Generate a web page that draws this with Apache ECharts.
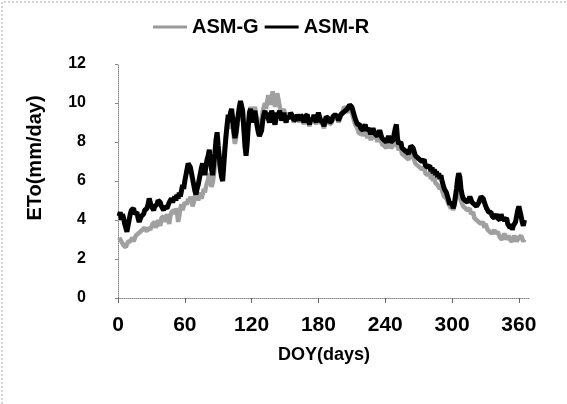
<!DOCTYPE html>
<html>
<head>
<meta charset="utf-8">
<script src="https://cdn.jsdelivr.net/npm/echarts@6/dist/echarts.min.js"></script>
<style>
  html, body { margin: 0; padding: 0; background: #fff; }
  #chart { width: 567px; height: 404px; }
</style>
</head>
<body>
<div id="chart"></div>
<script>
'use strict'

// daily reference ET (mm/day), DOY 1..365
const asmG = [
  3.1, 3.0, 2.9, 2.8, 2.7, 2.8, 2.6, 2.7, 2.9, 2.8,
  2.9, 3.0, 3.1, 2.9, 3.0, 3.2, 3.1, 3.3, 3.2, 3.4,
  3.3, 3.5, 3.4, 3.6, 3.5, 3.4, 3.6, 3.7, 3.5, 3.6,
  3.8, 3.7, 3.9, 3.6, 3.8, 4.0, 3.9, 3.7, 4.1, 4.0,
  4.2, 3.9, 4.1, 4.3, 4.0, 3.8, 4.2, 4.4, 4.3, 4.5,
  4.3, 4.6, 4.4, 3.9, 4.2, 4.6, 4.8, 4.5, 4.7, 4.9,
  5.0, 4.8, 5.1, 4.9, 5.2, 5.0, 4.7, 4.9, 5.2, 5.1,
  5.3, 5.0, 5.2, 5.4, 5.1, 5.3, 5.6, 5.4, 5.7, 5.9,
  6.1, 6.4, 6.0, 5.7, 5.9, 6.3, 6.8, 7.4, 7.8, 7.2,
  6.9, 6.5, 6.3, 6.6, 7.2, 7.8, 8.4, 8.8, 9.1, 8.7,
  8.9, 9.2, 8.8, 8.3, 7.9, 8.2, 8.7, 9.1, 9.4, 9.7,
  9.8, 9.3, 8.6, 8.1, 7.8, 8.3, 8.9, 9.4, 9.8, 9.5,
  9.3, 9.6, 9.8, 9.4, 9.1, 8.9, 8.7, 8.8, 9.2, 9.6,
  9.8, 10.0, 9.7, 10.1, 10.4, 10.2, 9.9, 10.3, 10.6, 10.2,
  9.8, 10.1, 10.5, 10.2, 9.9, 9.6, 9.4, 9.5, 9.7, 9.3,
  9.1, 9.3, 9.5, 9.2, 9.4, 9.5, 9.2, 9.0, 9.1, 9.3,
  9.3, 9.2, 9.0, 9.3, 9.4, 9.1, 8.9, 9.2, 9.1, 9.3,
  9.0, 8.8, 9.1, 9.2, 9.0, 9.3, 9.1, 8.9, 9.2, 9.4,
  9.2, 9.0, 9.1, 8.9, 8.7, 9.0, 9.2, 9.3, 9.1, 8.9,
  8.8, 9.0, 9.2, 9.1, 9.3, 9.4, 9.2, 9.0, 9.1, 9.3,
  9.4, 9.6, 9.8, 9.9, 9.7, 9.6, 9.5, 9.7, 9.8, 9.5,
  9.3, 9.1, 8.9, 8.8, 8.7, 8.5, 8.6, 8.4, 8.6, 8.3,
  8.5, 8.7, 8.4, 8.2, 8.5, 8.3, 8.1, 8.3, 8.5, 8.2,
  8.1, 8.3, 8.0, 8.2, 8.3, 8.1, 7.9, 8.0, 7.8, 7.9,
  7.7, 7.8, 8.0, 7.9, 7.7, 7.6, 7.8, 8.0, 8.2, 8.1,
  7.8, 7.6, 7.5, 7.7, 7.4, 7.5, 7.3, 7.4, 7.2, 7.3,
  7.1, 7.3, 7.4, 7.5, 7.3, 7.1, 6.9, 7.0, 6.8, 6.9,
  6.7, 6.8, 6.6, 6.5, 6.7, 6.4, 6.5, 6.3, 6.2, 6.4,
  6.1, 6.3, 6.0, 6.2, 5.9, 6.0, 5.8, 5.9, 5.6, 5.8,
  5.5, 5.4, 5.2, 5.3, 5.1, 5.0, 4.8, 4.7, 4.6, 4.8,
  4.5, 4.7, 5.0, 5.3, 5.6, 5.5, 5.2, 5.0, 4.9, 4.7,
  4.8, 4.6, 4.7, 4.5, 4.4, 4.6, 4.3, 4.2, 4.4, 4.1,
  4.2, 4.0, 4.1, 3.9, 4.0, 3.8, 3.7, 3.9, 3.6, 3.8,
  3.7, 3.5, 3.6, 3.4, 3.5, 3.3, 3.4, 3.5, 3.3, 3.2,
  3.4, 3.3, 3.1, 3.2, 3.0, 3.1, 3.3, 3.2, 3.0, 3.1,
  3.2, 3.0, 3.1, 2.9, 3.0, 3.2, 3.1, 2.9, 3.0, 3.1,
  3.0, 3.2, 3.1, 2.9, 3.0
];

const asmR = [
  4.2, 4.4, 4.0, 4.3, 4.1, 3.8, 3.6, 3.4, 3.7, 4.0,
  4.3, 4.5, 4.4, 4.6, 4.3, 4.2, 4.4, 4.1, 3.9, 4.0,
  4.2, 4.1, 4.3, 4.5, 4.4, 4.6, 4.8, 5.1, 5.0, 4.7,
  4.6, 4.5, 4.7, 4.6, 4.8, 5.0, 5.1, 4.9, 4.7, 4.6,
  4.5, 4.7, 4.8, 4.6, 4.7, 4.9, 5.0, 5.1, 4.9, 5.0,
  5.2, 5.0, 5.3, 5.1, 5.4, 5.2, 5.5, 5.8, 5.6, 6.0,
  6.3, 6.6, 6.9, 7.0, 6.7, 6.4, 6.1, 5.8, 5.5, 5.3,
  5.6, 5.8, 6.1, 6.4, 6.7, 6.9, 6.6, 6.3, 6.8, 7.1,
  7.3, 7.6, 7.0, 6.6, 6.3, 6.9, 7.4, 8.1, 8.5, 7.8,
  7.2, 6.6, 6.2, 6.0, 6.8, 7.6, 8.3, 8.9, 9.4, 9.0,
  9.5, 9.7, 9.2, 8.6, 8.2, 8.5, 9.0, 9.4, 9.8, 10.1,
  10.2, 9.6, 8.7, 7.8, 7.3, 7.9, 8.8, 9.5, 9.7, 9.3,
  9.0, 9.4, 9.6, 9.2, 8.8, 8.5, 8.3, 8.2, 8.6, 9.1,
  9.4, 9.6, 9.3, 9.5, 9.2, 9.0, 9.3, 9.6, 9.4, 9.1,
  8.9, 9.2, 9.5, 9.3, 9.6, 9.4, 9.1, 9.3, 9.5, 9.2,
  9.0, 9.3, 9.4, 9.2, 9.5, 9.6, 9.3, 9.1, 9.0, 9.2,
  9.4, 9.3, 9.1, 9.4, 9.5, 9.2, 9.0, 9.3, 9.2, 9.4,
  9.1, 8.9, 9.2, 9.3, 9.1, 9.4, 9.2, 9.0, 9.3, 9.5,
  9.3, 9.1, 9.2, 9.0, 8.8, 9.1, 9.3, 9.4, 9.2, 9.0,
  8.9, 9.1, 9.3, 9.2, 9.4, 9.5, 9.3, 9.1, 9.2, 9.4,
  9.3, 9.5, 9.4, 9.6, 9.5, 9.7, 9.8, 9.9, 10.0, 9.8,
  9.6, 9.4, 9.2, 9.1, 8.9, 8.8, 8.9, 8.7, 8.8, 8.6,
  8.7, 8.9, 8.6, 8.5, 8.7, 8.6, 8.4, 8.5, 8.7, 8.6,
  8.4, 8.5, 8.3, 8.4, 8.6, 8.4, 8.2, 8.3, 8.1, 8.2,
  8.0, 8.1, 8.3, 8.2, 8.0, 7.9, 8.1, 8.4, 8.7, 8.9,
  8.2, 7.9, 7.8, 8.0, 7.7, 7.8, 7.6, 7.7, 7.5, 7.6,
  7.4, 7.6, 7.8, 7.9, 7.7, 7.5, 7.3, 7.4, 7.2, 7.3,
  7.1, 7.2, 7.0, 6.9, 7.1, 6.8, 6.9, 6.7, 6.6, 6.8,
  6.5, 6.7, 6.4, 6.6, 6.3, 6.5, 6.2, 6.4, 6.1, 6.3,
  6.0, 5.8, 5.6, 5.7, 5.4, 5.2, 5.0, 4.8, 4.7, 4.9,
  4.6, 4.8, 5.2, 5.6, 6.1, 6.4, 6.2, 5.6, 5.3, 5.1,
  5.2, 5.0, 5.1, 4.9, 5.0, 5.2, 5.1, 4.9, 5.0, 4.8,
  4.9, 4.7, 4.8, 4.9, 5.0, 5.2, 5.3, 5.1, 4.9, 4.8,
  4.6, 4.5, 4.4, 4.3, 4.4, 4.2, 4.3, 4.1, 4.2, 4.3,
  4.1, 4.2, 4.0, 4.3, 4.1, 4.2, 4.0, 3.9, 4.1, 3.8,
  3.7, 3.6, 3.8, 3.5, 3.7, 3.6, 3.9, 4.2, 4.5, 4.7,
  4.6, 4.2, 3.9, 3.7, 4.0
];

const xTicks = [0, 60, 120, 180, 240, 300, 360];

const font = "'Liberation Sans', Arial, sans-serif";

function toPairs(values) {
    return values.map((v, i) => [i + 1, v]);
}

const chart = echarts.init(document.getElementById('chart'));

const option = {
    animation: false,
    backgroundColor: '#fff',
    grid: { left: 118, right: 37, top: 64, bottom: 106 },
    legend: {
        left: 148,
        top: 12,
        itemWidth: 34,
        itemHeight: 3,
        itemGap: 6,
        textStyle: { fontFamily: font, fontWeight: 'bold', fontSize: 20, color: '#000' },
        data: [
            { name: 'ASM-G', icon: 'rect', itemStyle: { color: '#9a9a9a' } },
            { name: 'ASM-R', icon: 'rect', itemStyle: { color: '#000' } }
        ]
    },
    xAxis: {
        type: 'value',
        min: 0,
        max: 370,
        name: 'DOY(days)',
        nameLocation: 'middle',
        nameGap: 48,
        nameTextStyle: { fontFamily: font, fontWeight: 'bold', fontSize: 18, color: '#000' },
        axisLine: { lineStyle: { color: '#888', type: 'dotted', width: 1 } },
        axisTick: { customValues: xTicks, length: 5, lineStyle: { color: '#666' } },
        axisLabel: {
            customValues: xTicks,
            margin: 17,
            fontFamily: font, fontWeight: 'bold', fontSize: 21, color: '#000'
        },
        splitLine: { show: false }
    },
    yAxis: {
        type: 'value',
        min: 0,
        max: 12,
        interval: 2,
        axisLine: { show: true, lineStyle: { color: '#888', type: 'dotted', width: 1 } },
        axisTick: { show: true, length: 3, lineStyle: { color: '#888' } },
        axisLabel: {
            margin: 32,
            fontFamily: font, fontWeight: 'bold', fontSize: 16, color: '#000'
        },
        splitLine: { show: false }
    },
    graphic: [
        {
            type: 'text',
            x: 35,
            y: 158,
            rotation: Math.PI / 2,
            style: {
                text: 'ETo(mm/day)',
                fontFamily: font, fontWeight: 'bold', fontSize: 20, fill: '#000',
                align: 'center', verticalAlign: 'middle'
            }
        },
        {
            type: 'polyline',
            shape: { points: [[2, 404], [2, 2], [566, 2]] },
            style: { stroke: '#aaa', lineWidth: 1, lineDash: [2, 2], fill: null },
            silent: true
        }
    ],
    series: [
        {
            name: 'ASM-G',
            type: 'line',
            showSymbol: false,
            data: toPairs(asmG),
            lineStyle: { color: '#a0a0a0', width: 4.5 },
            itemStyle: { color: '#a0a0a0' }
        },
        {
            name: 'ASM-R',
            type: 'line',
            showSymbol: false,
            data: toPairs(asmR),
            lineStyle: { color: '#000', width: 5 },
            itemStyle: { color: '#000' }
        }
    ]
};

option && chart.setOption(option);
</script>
</body>
</html>
